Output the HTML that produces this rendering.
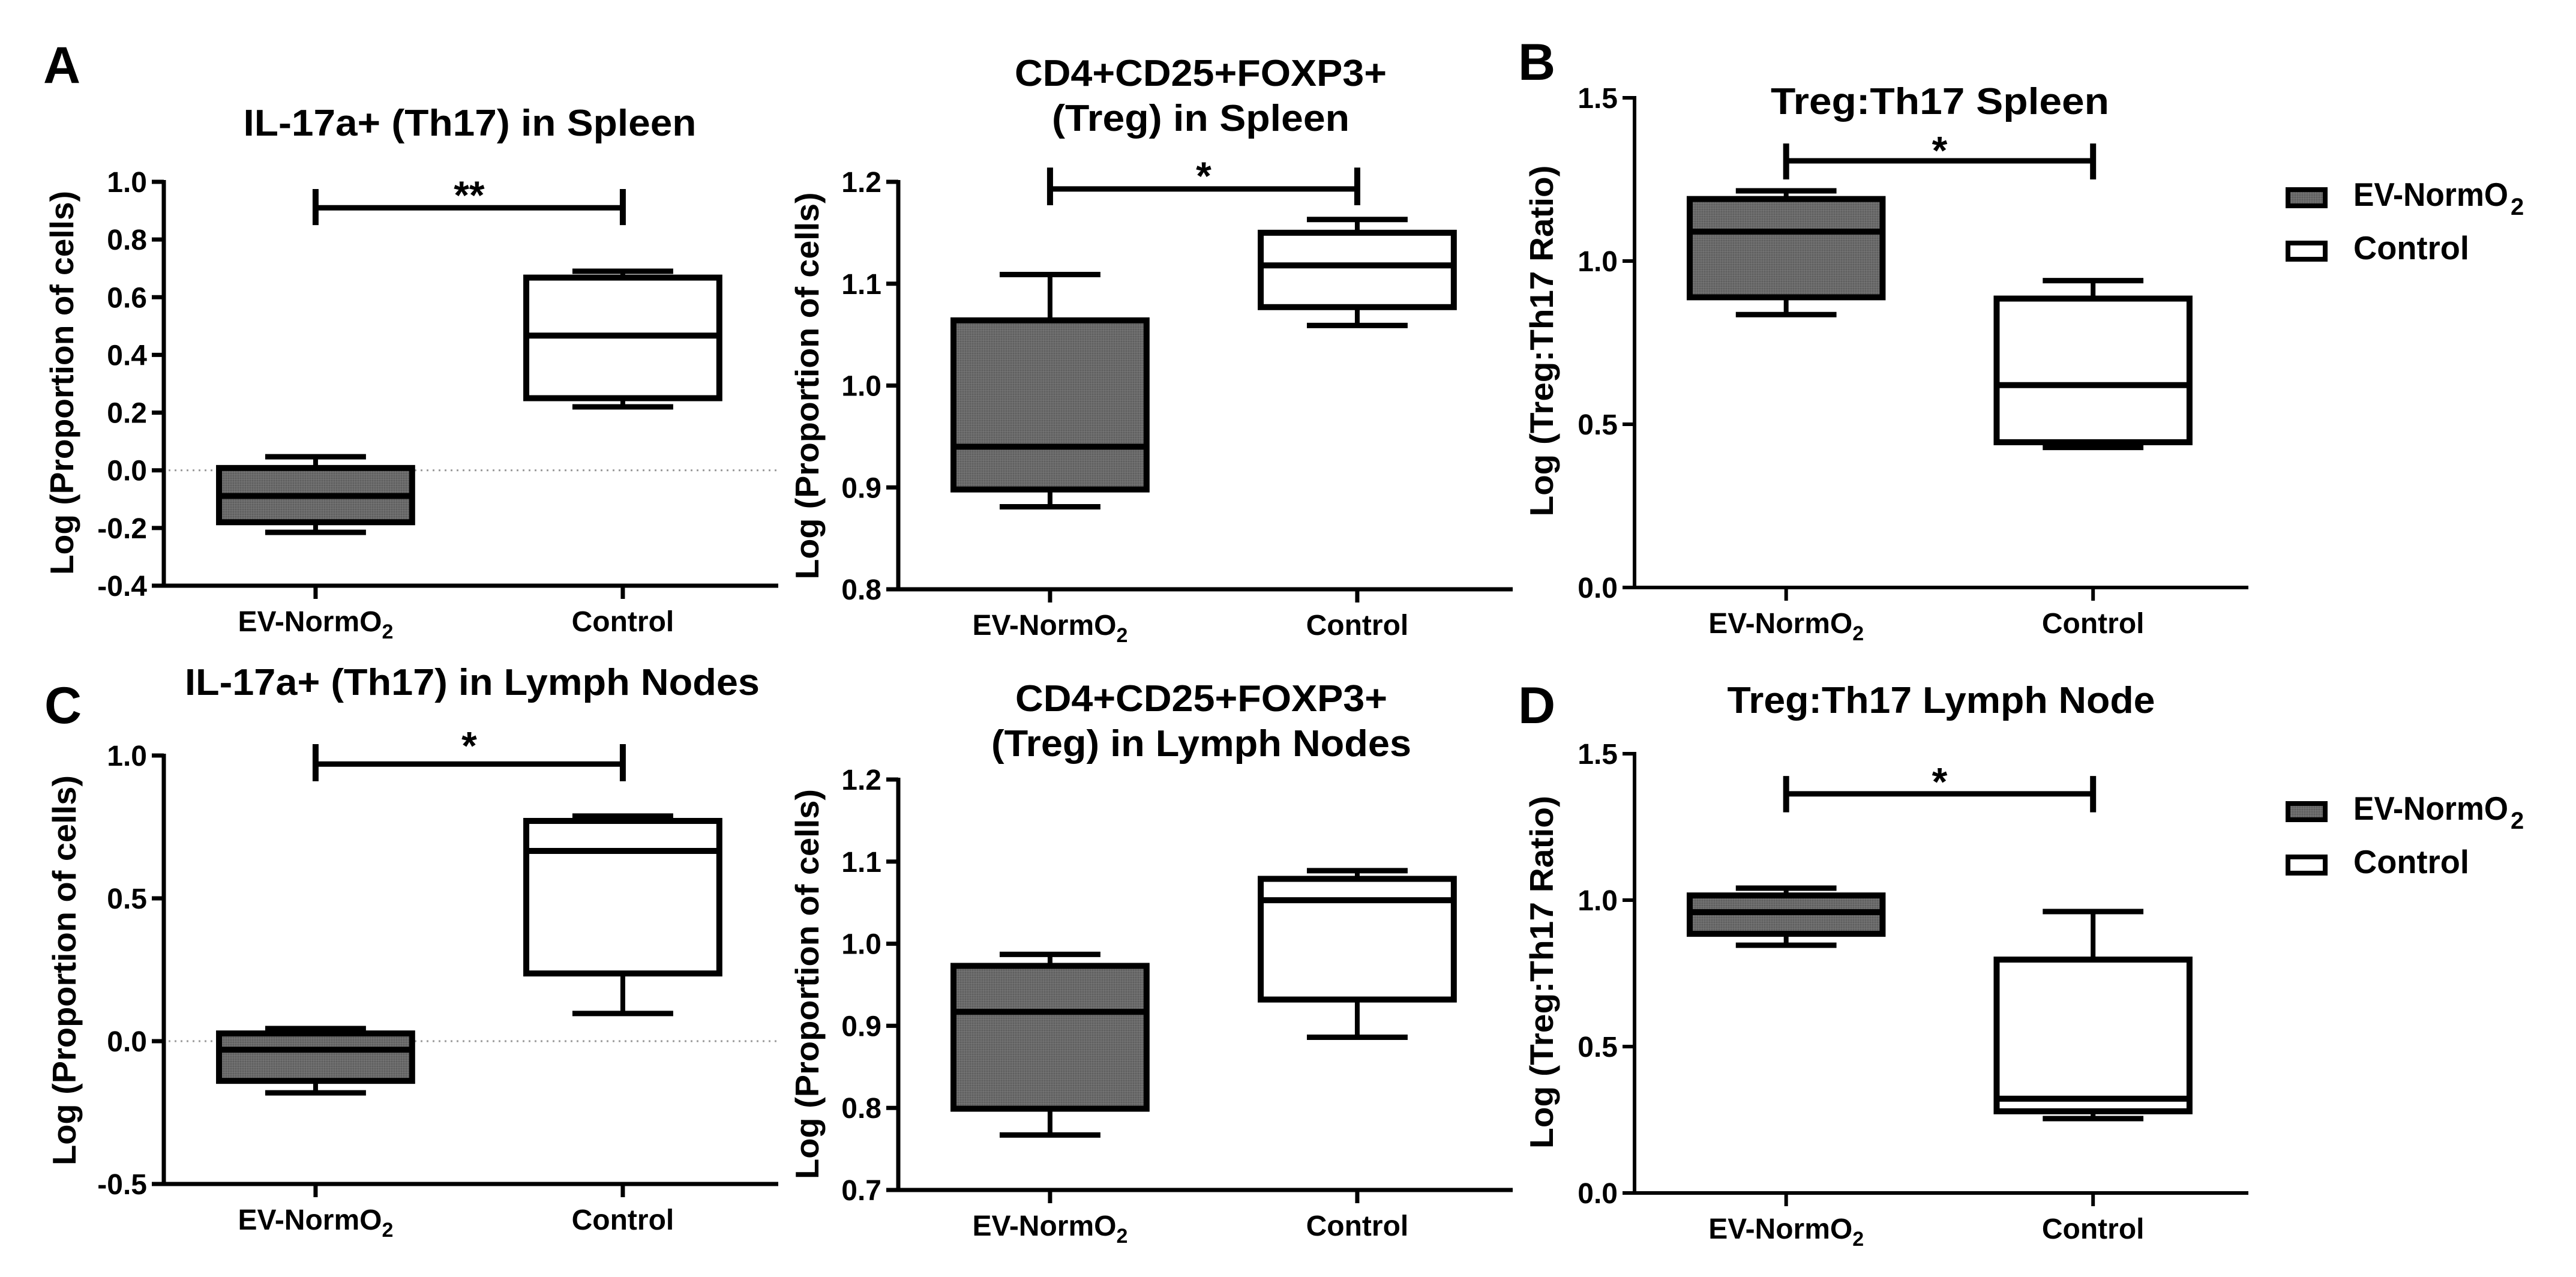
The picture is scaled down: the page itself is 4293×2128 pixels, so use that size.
<!DOCTYPE html>
<html><head><meta charset="utf-8"><title>Treg / Th17 box plots</title>
<style>
html,body{margin:0;padding:0;background:#fff;width:4293px;height:2128px;overflow:hidden;}
svg{display:block;font-family:"Liberation Sans",Arial,sans-serif;}
</style></head>
<body>
<svg id="fig" width="4293" height="2128" viewBox="0 0 4293 2128" xmlns="http://www.w3.org/2000/svg" overflow="hidden">
<defs>
<pattern id="grain" width="4" height="4" patternUnits="userSpaceOnUse">
<rect width="4" height="4" fill="#6a6a6a"/><rect width="2" height="2" fill="#5e5e5e"/><rect x="2" y="2" width="2" height="2" fill="#737373"/>
</pattern>
</defs>
<g id="root"></g>
</svg>
<script>
// ---- data ----
const categories = ["EV-NormO2", "Control"];
// box stats: [min, q1, median, q3, max]
const a1Ev = [-0.215, -0.18, -0.089, 0.008, 0.047];
const a1Ctrl = [0.22, 0.25, 0.467, 0.668, 0.69];
const a2Ev = [0.881, 0.898, 0.940, 1.064, 1.109];
const a2Ctrl = [1.059, 1.077, 1.118, 1.150, 1.163];
const bEv = [0.836, 0.889, 1.09, 1.19, 1.215];
const bCtrl = [0.429, 0.445, 0.62, 0.885, 0.94];
const cEv = [-0.181, -0.139, -0.03, 0.027, 0.044];
const cCtrl = [0.097, 0.237, 0.666, 0.771, 0.788];
const c2Ev = [0.767, 0.799, 0.917, 0.973, 0.987];
const c2Ctrl = [0.886, 0.932, 1.053, 1.079, 1.089];
const dEv = [0.846, 0.885, 0.959, 1.016, 1.041];
const dCtrl = [0.254, 0.279, 0.322, 0.797, 0.961];
// significance bars: [barLevel, tickTop, tickBottom, starLevel]
const a1Sig = [0.91, 0.975, 0.85, 0.99];
const a2Sig = [1.193, 1.214, 1.177, 1.216];
const bSig = [1.307, 1.36, 1.25, 1.37];
const cSig = [0.97, 1.04, 0.91, 1.07];
const dSig = [1.363, 1.424, 1.30, 1.44];
const a1Stars = "**";
const otherStars = "*";
// axis tick labels
const a1Ticks = ["-0.4","-0.2","0.0","0.2","0.4","0.6","0.8","1.0"];
const a2Ticks = ["0.8","0.9","1.0","1.1","1.2"];
const bTicks = ["0.0","0.5","1.0","1.5"];
const cTicks = ["-0.5","0.0","0.5","1.0"];
const c2Ticks = ["0.7","0.8","0.9","1.0","1.1","1.2"];
const dTicks = ["0.0","0.5","1.0","1.5"];

const NS = "http://www.w3.org/2000/svg";
const root = document.getElementById("root");
function mk(tag, attrs, parent) {
  const e = document.createElementNS(NS, tag);
  for (const k in attrs) e.setAttribute(k, attrs[k]);
  (parent || root).appendChild(e);
  return e;
}

function drawPanel(p) {
  const g = mk("g", {});
  
  
  const ymin = parseFloat(p.ticks[0]), ymax = parseFloat(p.ticks[p.ticks.length - 1]);
  const yS = v => p.y1 + (ymax - v) / (ymax - ymin) * (p.y0 - p.y1);
  const len = p.xEnd - p.ax;
  const xS = i => p.ax + len * (i === 0 ? 0.247 : 0.747);
  const half = len * 0.162, cap = len * 0.082;

  if (p.zero) {
    const zl = mk("line", {x1: p.ax + 8, x2: p.xEnd, y1: yS(0), y2: yS(0), stroke: "#9a9a9a", "stroke-width": 3, "stroke-dasharray": "3 7"}, g);
    
    
  }
  p.series.forEach((s, i) => {
    const cx = xS(i);
    const bg = mk("g", {}, g);
    
    
    const w1 = mk("line", {x1: cx, x2: cx, y1: yS(s[4]), y2: yS(s[3]), stroke: "#000", "stroke-width": 8}, bg);
    
    
    const w2 = mk("line", {x1: cx, x2: cx, y1: yS(s[1]), y2: yS(s[0]), stroke: "#000", "stroke-width": 8}, bg);
    
    
    const c1 = mk("line", {x1: cx - cap, x2: cx + cap, y1: yS(s[4]), y2: yS(s[4]), stroke: "#000", "stroke-width": 9}, bg);
    
    
    const c2 = mk("line", {x1: cx - cap, x2: cx + cap, y1: yS(s[0]), y2: yS(s[0]), stroke: "#000", "stroke-width": 9}, bg);
    
    
    const r = mk("rect", {x: cx - half + 5, y: yS(s[3]), width: 2 * half - 10, height: yS(s[1]) - yS(s[3]), fill: i === 0 ? "url(#grain)" : "#fff", stroke: "#000", "stroke-width": 10}, bg);
    
    
    const m = mk("line", {x1: cx - half + 5, x2: cx + half - 5, y1: yS(s[2]), y2: yS(s[2]), stroke: "#000", "stroke-width": 10}, bg);
    
    
  });
  const ya = mk("line", {x1: p.ax, x2: p.ax, y1: yS(ymax) - 3, y2: p.y0 + 3, stroke: "#000", "stroke-width": p.aw}, g);
  
  
  const xa = mk("line", {x1: p.ax - 20, x2: p.xEnd, y1: p.y0, y2: p.y0, stroke: "#000", "stroke-width": p.aw}, g);
  
  
  p.ticks.forEach(t => {
    const y = yS(parseFloat(t));
    const tl = mk("line", {x1: p.ax - 20, x2: p.ax, y1: y, y2: y, stroke: "#000", "stroke-width": p.aw}, g);
    
    
    const tx = mk("text", {x: p.ax - 28, y: y + 17, "text-anchor": "end", "font-size": 48, "font-weight": "bold"}, g);
    tx.textContent = t;
    
    
  });
  categories.forEach((c, i) => {
    const x = xS(i);
    const tk = mk("line", {x1: x, x2: x, y1: p.y0, y2: p.y0 + 22, stroke: "#000", "stroke-width": p.aw}, g);
    
    
    const tx = mk("text", {x: x, y: p.y0 + 76, "text-anchor": "middle", "font-size": 48, "font-weight": "bold"}, g);
    
    
    if (i === 0) {
      tx.appendChild(document.createTextNode("EV-NormO"));
      const sb = mk("tspan", {"font-size": 34, dy: 12}, tx);
      sb.textContent = "2";
    } else tx.textContent = c;
  });
  if (p.sig) {
    const sg = mk("g", {}, g);
    
    
    const sx0 = xS(0), sx1 = xS(1);
    mk("line", {x1: sx0, x2: sx1, y1: yS(p.sig[0]), y2: yS(p.sig[0]), stroke: "#000", "stroke-width": 9}, sg);
    mk("line", {x1: sx0, x2: sx0, y1: yS(p.sig[1]), y2: yS(p.sig[2]), stroke: "#000", "stroke-width": 10}, sg);
    mk("line", {x1: sx1, x2: sx1, y1: yS(p.sig[1]), y2: yS(p.sig[2]), stroke: "#000", "stroke-width": 10}, sg);
    const st = mk("text", {x: (sx0 + sx1) / 2, y: yS(p.sig[3]) + 40, "text-anchor": "middle", "font-size": 66, "font-weight": "bold"}, sg);
    st.textContent = p.stars;
    
    
  }
  const yt = mk("text", {x: 0, y: 0, transform: `translate(${p.ylx},${p.yly}) rotate(-90)`, "text-anchor": "middle", "font-size": 55, "font-weight": "bold", textLength: p.ylLen, lengthAdjust: "spacingAndGlyphs"}, g);
  yt.textContent = p.ylabel;
  
  
  p.title.forEach((line, k) => {
    const t = mk("text", {x: p.tx, y: line[1], "text-anchor": "middle", "font-size": 62, "font-weight": "bold", textLength: line[2], lengthAdjust: "spacingAndGlyphs"}, g);
    t.textContent = line[0];
    
    
  });
}

const panels = [
  {name: "panel-a-th17-spleen", ax: 273, xEnd: 1297, y1: 303, y0: 976, aw: 7, ticks: a1Ticks, series: [a1Ev, a1Ctrl], sig: a1Sig, stars: a1Stars, zero: true,
   ylabel: "Log (Proportion of cells)", ylx: 122, yly: 638, ylLen: 640, tx: 783, title: [["IL-17a+ (Th17) in Spleen", 226, 755]]},
  {name: "panel-a-treg-spleen", ax: 1497, xEnd: 2521, y1: 303, y0: 982, aw: 7, ticks: a2Ticks, series: [a2Ev, a2Ctrl], sig: a2Sig, stars: otherStars, zero: false,
   ylabel: "Log (Proportion of cells)", ylx: 1364, yly: 643, ylLen: 645, tx: 2001, title: [["CD4+CD25+FOXP3+", 143, 620], ["(Treg) in Spleen", 218, 496]]},
  {name: "panel-b-ratio-spleen", ax: 2724, xEnd: 3747, y1: 163, y0: 979, aw: 6, ticks: bTicks, series: [bEv, bCtrl], sig: bSig, stars: otherStars, zero: false,
   ylabel: "Log (Treg:Th17 Ratio)", ylx: 2588, yly: 568, ylLen: 585, tx: 3233, title: [["Treg:Th17  Spleen", 190, 564]]},
  {name: "panel-c-th17-lymph", ax: 273, xEnd: 1297, y1: 1259, y0: 1973, aw: 7, ticks: cTicks, series: [cEv, cCtrl], sig: cSig, stars: otherStars, zero: true,
   ylabel: "Log (Proportion of cells)", ylx: 126, yly: 1617, ylLen: 650, tx: 787, title: [["IL-17a+ (Th17) in Lymph Nodes", 1158, 958]]},
  {name: "panel-c-treg-lymph", ax: 1497, xEnd: 2521, y1: 1299, y0: 1983, aw: 7, ticks: c2Ticks, series: [c2Ev, c2Ctrl], sig: null, stars: "", zero: false,
   ylabel: "Log (Proportion of cells)", ylx: 1364, yly: 1640, ylLen: 650, tx: 2002, title: [["CD4+CD25+FOXP3+", 1185, 620], ["(Treg) in Lymph Nodes", 1260, 700]]},
  {name: "panel-d-ratio-lymph", ax: 2724, xEnd: 3747, y1: 1256, y0: 1988, aw: 6, ticks: dTicks, series: [dEv, dCtrl], sig: dSig, stars: otherStars, zero: false,
   ylabel: "Log (Treg:Th17 Ratio)", ylx: 2588, yly: 1620, ylLen: 588, tx: 3235, title: [["Treg:Th17 Lymph Node", 1188, 713]]}
];
panels.forEach(p => drawPanel(p));

[["A", 72, 138], ["B", 2530, 133], ["C", 74, 1205], ["D", 2530, 1205]].forEach(l => {
  const t = mk("text", {x: l[1], y: l[2], "font-size": 86, "font-weight": "bold"});
  t.textContent = l[0];
  
  
});

[[312, "legend-spleen"], [1335, "legend-lymph"]].forEach(L => {
  const lg = mk("g", {});
  
  
  categories.forEach((c, i) => {
    const y = L[0] + i * 89;
    const e = mk("g", {}, lg);
    
    
    mk("rect", {x: 3813, y: y + 4, width: 62, height: 27, fill: i === 0 ? "url(#grain)" : "#fff", stroke: "#000", "stroke-width": 8}, e);
    const t = mk("text", {x: 3922, y: y + 31, "font-size": 55, "font-weight": "bold", textLength: i === 0 ? 258 : 193, lengthAdjust: "spacingAndGlyphs"}, e);
    t.textContent = i === 0 ? "EV-NormO" : c;
    if (i === 0) {
      const s = mk("text", {x: 4184, y: y + 46, "font-size": 40, "font-weight": "bold"}, e);
      s.textContent = "2";
    }
  });
});
</script>
</body></html>
